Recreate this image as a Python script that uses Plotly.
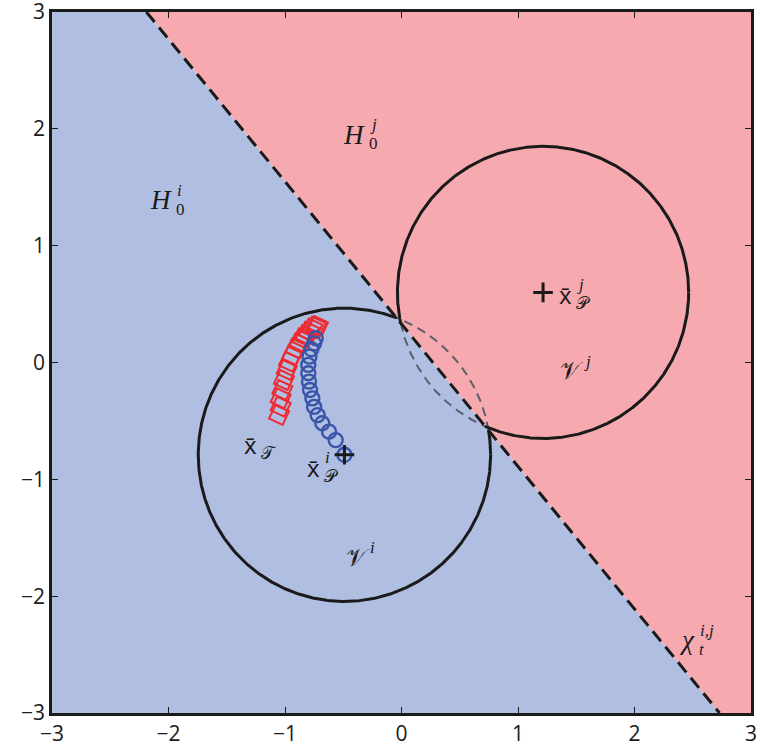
import numpy as np
import plotly.graph_objs as go

# boundary line chi_t^{i,j}: end points on the top / bottom of the box
line_x = [-2.19, 2.73]
line_y = [3.0, -3.0]

# Voronoi cells (centre and radius)
cell_i = dict(x=-0.49, y=-0.79, r=1.255)
cell_j = dict(x=1.215, y=0.60, r=1.25)

# trajectory of the agent centroid (blue circles)
traj_p_x = [-0.49, -0.565, -0.622, -0.68, -0.72, -0.75, -0.765, -0.785, -0.794,
            -0.80, -0.80, -0.79, -0.774, -0.75, -0.736]
traj_p_y = [-0.79, -0.664, -0.592, -0.52, -0.45, -0.38, -0.307, -0.235, -0.164,
            -0.092, -0.02, 0.05, 0.113, 0.164, 0.207]

# trajectory of the target centroid (red squares)
traj_t_x = [-1.051, -1.037, -1.037, -1.023, -1.009, -0.985, -0.966, -0.937, -0.908,
            -0.88, -0.85, -0.822, -0.794, -0.765, -0.736, -0.717]
traj_t_y = [-0.449, -0.378, -0.307, -0.235, -0.15, -0.064, 0.007, 0.064, 0.12,
            0.164, 0.207, 0.235, 0.264, 0.293, 0.307, 0.312]

tick_vals = [-3, -2, -1, 0, 1, 2, 3]

# labels: (x, y, base, subscript, superscript, style)
labels = [
    (-1.953, 1.39, "<i>H</i>", "0", "<i>i</i>", "serif"),
    (-0.296, 1.948, "<i>H</i>", "0", "<i>j</i>", "serif"),
    (-0.253, -1.67, "𝒱", "", "<i>i</i>", "script"),
    (1.584, -0.073, "𝒱", "", "<i>j</i>", "script"),
    (-0.682, -0.90, "x̄", "𝒫", "<i>i</i>", "sans"),
    (1.48, 0.586, "x̄", "𝒫", "<i>j</i>", "sans"),
    (-1.223, -0.70, "x̄", "𝒯", "", "sans"),
    (2.536, -2.376, "<i>χ</i>", "<i>t</i>", "<i>i,j</i>", "serif"),
]

blue = "#b0bee1"
red = "#f6aab0"
ink = "#1a1a1a"


def side(px, py):
    # >0 above the boundary line, <0 below
    x0, x1 = line_x
    y0, y1 = line_y
    return (x1 - x0) * (py - y0) - (y1 - y0) * (px - x0)


def arcs(cell, keep_above):
    th = np.linspace(0, 2 * np.pi, 1441)
    cx = cell["x"] + cell["r"] * np.cos(th)
    cy = cell["y"] + cell["r"] * np.sin(th)
    s = side(cx, cy) * (1 if keep_above else -1) > 0
    solid = s | np.roll(s, 1) | np.roll(s, -1)
    dash = ~s | np.roll(~s, 1) | np.roll(~s, -1)
    return (np.where(solid, cx, np.nan), np.where(solid, cy, np.nan),
            np.where(dash, cx, np.nan), np.where(dash, cy, np.nan))


fig = go.Figure()

# half planes
fig.add_trace(go.Scatter(x=[-3, -3, line_x[0], line_x[1], -3], y=[-3, 3, 3, -3, -3],
                         fill="toself", fillcolor=blue, mode="none", hoverinfo="skip"))
fig.add_trace(go.Scatter(x=[line_x[0], 3, 3, line_x[1], line_x[0]], y=[3, 3, -3, -3, 3],
                         fill="toself", fillcolor=red, mode="none", hoverinfo="skip"))

for cell, above in [(cell_i, False), (cell_j, True)]:
    sx, sy, dx, dy = arcs(cell, above)
    fig.add_trace(go.Scatter(x=dx, y=dy, mode="lines",
                             line=dict(color="#5b5f6b", width=2, dash="9px,6px")))
    fig.add_trace(go.Scatter(x=sx, y=sy, mode="lines", line=dict(color=ink, width=3)))

fig.add_trace(go.Scatter(x=line_x, y=line_y, mode="lines",
                         line=dict(color=ink, width=3, dash="13px,7px")))

fig.add_trace(go.Scatter(x=traj_t_x, y=traj_t_y, mode="markers",
                         marker=dict(symbol="square-open", size=15, angle=25,
                                     color="#ee2a30", line=dict(width=2, color="#ee2a30"))))
fig.add_trace(go.Scatter(x=traj_p_x, y=traj_p_y, mode="markers",
                         marker=dict(symbol="circle-open", size=14,
                                     color="#3a55a8", line=dict(width=2.4, color="#3a55a8"))))
fig.add_trace(go.Scatter(x=[cell_i["x"], cell_j["x"]], y=[cell_i["y"], cell_j["y"]],
                         mode="markers",
                         marker=dict(symbol="cross-thin", size=14,
                                     line=dict(width=3, color=ink))))

fonts = {
    "serif": ("Liberation Serif", 27, 17, 1),
    "script": ("Liberation Serif", 24, 17, -4),
    "sans": ("Open Sans", 24, 17, 1),
}
for x, y, base, sub, sup, style in labels:
    fam, big, small, gap = fonts[style]
    fig.add_annotation(x=x, y=y, text=base, showarrow=False, xanchor="right",
                       font=dict(family=fam, size=big, color=ink))
    if sub:
        fig.add_annotation(x=x, y=y, text=sub, showarrow=False, xanchor="left",
                           xshift=0, yshift=-9,
                           font=dict(family="Liberation Serif", size=small, color=ink))
    if sup:
        fig.add_annotation(x=x, y=y, text=sup, showarrow=False, xanchor="left",
                           xshift=gap, yshift=10,
                           font=dict(family="Liberation Serif", size=small, color=ink))

axis = dict(range=[-3, 3], tickvals=tick_vals, ticks="inside", ticklen=6, tickwidth=1,
            tickcolor=ink, showline=True, linewidth=2.5, linecolor=ink,
            mirror="ticks", showgrid=False, zeroline=False,
            ticklabeloverflow="allow", automargin=False,
            tickfont=dict(family="Open Sans", size=21, color=ink))
fig.update_layout(
    width=757, height=755, showlegend=False,
    plot_bgcolor="white", paper_bgcolor="white",
    margin=dict(l=52, r=6, t=12, b=42),
    xaxis=axis, yaxis=axis,
)
fig.write_html("out.html", config={"displayModeBar": False},
               post_script="document.body.style.margin='0px';")
